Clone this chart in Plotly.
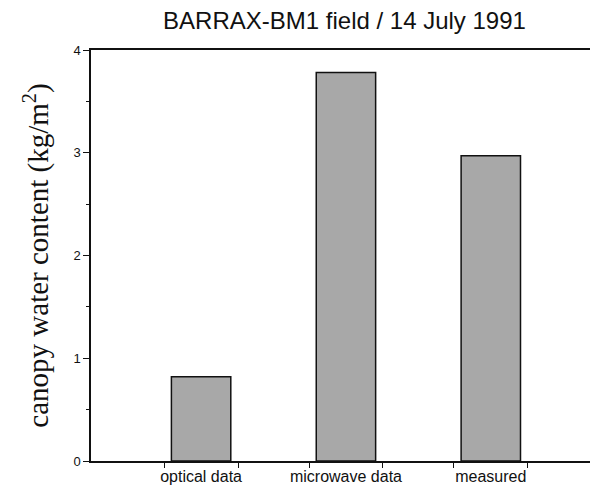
import plotly.graph_objects as go

categories = ["optical data", "microwave data", "measured"]
values = [0.82, 3.78, 2.97]
positions = [0, 1, 2]
y_ticks = [0, 1, 2, 3, 4]

fig = go.Figure()
fig.add_trace(go.Bar(
    x=positions, y=values, width=0.41,
    marker=dict(color="#a8a8a8", line=dict(color="#111111", width=1.5)),
))

edge_ticks = []
for p in positions:
    edge_ticks += [p - 0.255, p + 0.255]

# page body has an 8px margin, so the figure is offset by 8px
fig.update_layout(
    width=590, height=487,
    margin=dict(l=83, r=0, t=42, b=34),
    paper_bgcolor="white", plot_bgcolor="white",
    showlegend=False,
    title=dict(text="BARRAX-BM1 field / 14 July 1991", x=0.5, xref="paper",
               y=0.975, yref="container", yanchor="middle",
               font=dict(family="Liberation Sans, Arial", size=24, color="#111")),
    xaxis=dict(range=[-0.76, 2.74], tickvals=positions, ticktext=categories,
               ticks="", showgrid=False, zeroline=False,
               showline=True, linecolor="#111", linewidth=1.5, mirror=True,
               tickfont=dict(family="Liberation Sans, Arial", size=16, color="#111"),
               minor=dict(tickvals=edge_ticks, ticks="outside", ticklen=5,
                          tickcolor="#111", tickwidth=1, showgrid=False)),
    yaxis=dict(range=[0, 4], tickvals=y_ticks, ticks="outside", ticklen=6,
               tickcolor="#111", showgrid=False, zeroline=False,
               showline=True, linecolor="#111", linewidth=1.5,
               tickfont=dict(family="Liberation Sans, Arial", size=13, color="#111"),
               minor=dict(dtick=0.5, ticks="outside", ticklen=3, tickcolor="#111",
                          showgrid=False),
               title=dict(text="canopy water content (kg/m<sup>2</sup>)",
                          standoff=16,
                          font=dict(family="Liberation Serif, Times New Roman", size=29, color="#111"))),
)

fig.write_html("out.html")
